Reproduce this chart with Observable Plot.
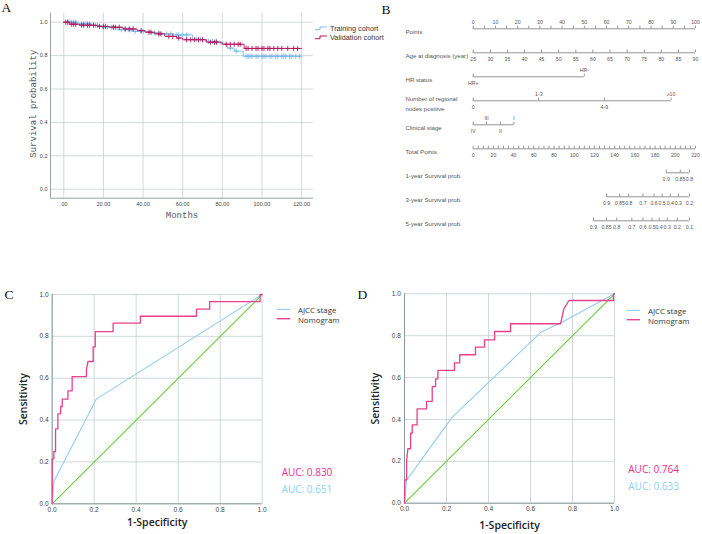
<!DOCTYPE html>
<html><head><meta charset="utf-8">
<script src="https://cdn.jsdelivr.net/npm/d3@7"></script>
<script src="https://cdn.jsdelivr.net/npm/@observablehq/plot@0.6"></script>
<style>
body{margin:0;background:#fff;}
#root{position:relative;width:702px;height:534px;overflow:hidden;background:#fff;}
#root > svg{position:absolute;}
</style></head><body><div id="root"></div>
<script>
// ---------- Panel A: Kaplan-Meier ----------
const kmXTicks = [0, 20, 40, 60, 80, 100, 120];
const kmYTicks = [0, 0.2, 0.4, 0.6, 0.8, 1.0];
const trainTime = [0, 7, 14, 19, 27, 35, 44, 50, 55, 65, 71.5, 79, 82.5, 86, 90.5, 120];
const trainSurv = [1.0, 0.99, 0.98, 0.97, 0.955, 0.945, 0.935, 0.93, 0.924, 0.898, 0.885, 0.87, 0.845, 0.827, 0.796, 0.796];
const trainCensor = [2,3,4,5,6,9,10,11,12,13,16,17,20,22,24,25,29,31,33,34,36,39,40,46,48,52,54,57,58,60,62,67,69,73,75,77,84,87,92,93,94,95,97,98,100,101,102,104,105,107,108,110,111,112,114,115,117,119];
const validTime = [0, 3, 8, 17, 23, 30, 37, 41, 46, 51, 57, 60, 72, 80, 91, 120];
const validSurv = [1.0, 0.988, 0.982, 0.975, 0.97, 0.96, 0.95, 0.94, 0.93, 0.915, 0.905, 0.895, 0.88, 0.868, 0.843, 0.843];
const validCensor = [1,2,4,5,6,9,10,12,13,15,18,20,21,25,26,28,31,33,35,39,43,44,48,49,53,55,58,62,64,66,68,70,74,76,77,82,84,86,88,89,92,93,95,97,98,100,101,103,104,106,108,110,113,116,118];
const kmSeries = ["Training cohort", "Validation cohort"];
const kmColors = ["#76b9e8", "#b3155c"];

// ---------- Panel B: Nomogram ----------
const nomoRows = ["Points", "Age at diagnosis (year)", "HR status", "Number of regional\nnodes positive", "Clinical stage", "Total Points", "1-year Survival prob.", "3-year Survival prob.", "5-year Survival prob."];
const pointsTicks = d3.range(0, 101, 5);
const pointsLabels = d3.range(0, 101, 10);
const ageTicks = d3.range(25, 91, 5);
const hrLevels = ["HR+", "HR-"];
const hrPoints = [0, 50];
const hrSide = ["below", "above"];
const nodeLevels = ["0", "1-3", "4-9", "≥10"];
const nodePoints = [0, 29.5, 59, 89];
const nodeSide = ["below", "above", "below", "above"];
const stageLevels = ["IV", "III", "II", "I"];
const stagePoints = [0, 6, 12.3, 18.3];
const stageSide = ["below", "above", "below", "above"];
const totalTicks = d3.range(0, 221, 5);
const totalLabels = d3.range(0, 221, 20);
const surv1Labels = ["0.9", "0.85", "0.8"];
const surv1Total = [191, 205, 214];
const surv3Labels = ["0.9", "0.85", "0.8", "0.7", "0.6", "0.5", "0.4", "0.3", "0.2"];
const surv3Total = [132, 145, 154, 168, 179, 187, 195, 203, 214];
const surv5Labels = ["0.9", "0.85", "0.8", "0.7", "0.6", "0.5", "0.4", "0.3", "0.2", "0.1"];
const surv5Total = [119, 132, 142, 157, 168, 177, 184, 192, 202, 214];

// ---------- Panels C, D: ROC ----------
const rocTicks = [0, 0.2, 0.4, 0.6, 0.8, 1.0];
const diagX = [0, 1];
const diagY = [0, 1];
const cNomoX = [0,0,0.008,0.008,0.016,0.016,0.027,0.027,0.04,0.04,0.048,0.048,0.075,0.075,0.095,0.095,0.163,0.163,0.17,0.19,0.195,0.195,0.205,0.205,0.29,0.29,0.42,0.42,0.687,0.687,0.75,0.75,0.99,0.99,1.0];
const cNomoY = [0,0.215,0.215,0.25,0.25,0.358,0.358,0.43,0.43,0.465,0.465,0.50,0.50,0.54,0.54,0.608,0.608,0.64,0.68,0.68,0.68,0.75,0.75,0.823,0.823,0.863,0.863,0.896,0.896,0.93,0.93,0.966,0.966,1.0,1.0];
const cAjccX = [0, 0.008, 0.21, 1];
const cAjccY = [0, 0.108, 0.50, 1];
const dNomoX = [0,0.002,0.01,0.01,0.016,0.029,0.029,0.037,0.037,0.06,0.06,0.105,0.105,0.132,0.132,0.148,0.148,0.159,0.159,0.238,0.238,0.263,0.263,0.338,0.338,0.381,0.381,0.429,0.429,0.505,0.505,0.743,0.759,0.783,0.995,0.995,1.0];
const dNomoY = [0,0.111,0.111,0.2,0.26,0.26,0.334,0.334,0.374,0.374,0.45,0.45,0.486,0.486,0.557,0.557,0.594,0.594,0.634,0.634,0.67,0.67,0.709,0.709,0.745,0.745,0.78,0.78,0.82,0.82,0.857,0.857,0.928,0.968,0.968,1.0,1.0];
const dAjccX = [0, 0.01, 0.227, 0.65, 0.743, 1];
const dAjccY = [0, 0.11, 0.41, 0.817, 0.861, 1];
const rocSeries = ["AJCC stage", "Nomogram"];
const rocColors = ["#93cdf1", "#e8408c"];
const diagColor = "#66d13c";
const aucC = ["AUC: 0.830", "AUC: 0.651"];
const aucD = ["AUC: 0.764", "AUC: 0.633"];
const panelLetters = ["A", "B", "C", "D"];

const root = document.getElementById("root");
function place(svg, left, top) {
  svg.style.left = left + "px";
  svg.style.top = top + "px";
  svg.style.background = "transparent";
  root.appendChild(svg);
}

// ---- A ----
function stepRows(times, surv) { return times.map((t, i) => ({t, s: surv[i]})); }
function survAt(times, surv, t) { let s = surv[0]; for (let i = 0; i < times.length; i++) if (times[i] <= t) s = surv[i]; return s; }
const trainRows = stepRows(trainTime, trainSurv);
const validRows = stepRows(validTime, validSurv);
const trainCens = trainCensor.map(t => ({t, s: survAt(trainTime, trainSurv, t)}));
const validCens = validCensor.map(t => ({t, s: survAt(validTime, validSurv, t)}));
const gridCol = "#c4cfd1";
const axisCol = "#97a3a5";

const plotA = Plot.plot({
  width: 400, height: 260,
  marginLeft: 50, marginRight: 87, marginTop: 12.7, marginBottom: 62.3,
  x: {domain: [-6.7, 126], axis: null},
  y: {domain: [-0.054, 1.054], axis: null},
  style: {fontFamily: "Liberation Sans, Arial, sans-serif", fontSize: "5.5px", color: "#444", background: "transparent", overflow: "visible"},
  marks: [
    Plot.gridX(kmXTicks, {stroke: gridCol, strokeOpacity: 1, strokeWidth: 0.8}),
    Plot.gridY(kmYTicks, {stroke: gridCol, strokeOpacity: 1, strokeWidth: 0.8}),
    Plot.ruleX([-6.7], {stroke: axisCol}),
    Plot.ruleY([-0.054], {stroke: axisCol}),
    Plot.axisX(kmXTicks, {tickSize: 0, tickPadding: 3.5, tickFormat: d => d === 0 ? ".00" : d.toFixed(2), label: null}),
    Plot.axisY(kmYTicks, {tickSize: 0, tickPadding: 3, tickFormat: d3.format(".1f"), label: null}),
    Plot.line(trainRows, {x: "t", y: "s", curve: "step-after", stroke: kmColors[0], strokeWidth: 0.9}),
    Plot.dot(trainCens, {x: "t", y: "s", symbol: "plus", r: 1.8, stroke: kmColors[0], strokeWidth: 0.9}),
    Plot.line(validRows, {x: "t", y: "s", curve: "step-after", stroke: kmColors[1], strokeWidth: 0.9}),
    Plot.dot(validCens, {x: "t", y: "s", symbol: "plus", r: 1.8, stroke: kmColors[1], strokeWidth: 0.9}),
    Plot.text(["Months"], {text: d => d, frameAnchor: "bottom", dy: 19.5, textAnchor: "middle", fontSize: 9, fontFamily: "Liberation Mono, DejaVu Sans Mono, monospace", fill: "#555"}),
    Plot.text(["Survival probability"], {text: d => d, frameAnchor: "left", dx: -17, dy: -2, textAnchor: "middle", rotate: -90, fontSize: 9, fontFamily: "Liberation Mono, DejaVu Sans Mono, monospace", fill: "#555"})
  ]
});
place(plotA, 0, 0);

// ---- B ----
const segs = [], ticks = [], labAbove = [], labBelow = [];
function addRow(row, xs, tickXs) {
  segs.push({row, x1: d3.min(xs), x2: d3.max(xs)});
  tickXs.forEach(x => ticks.push({row, x}));
}
addRow(0, pointsTicks, pointsTicks);
pointsLabels.forEach(p => labAbove.push({row: 0, x: p, label: String(p)}));
const agePts = ageTicks.map(a => (a - 25) / 65 * 100);
addRow(1, agePts, agePts);
ageTicks.forEach((a, i) => labBelow.push({row: 1, x: agePts[i], label: String(a)}));
function addCat(row, levels, pts, side) {
  addRow(row, pts, pts);
  levels.forEach((l, i) => (side[i] === "above" ? labAbove : labBelow).push({row, x: pts[i], label: l}));
}
addCat(2, hrLevels, hrPoints, hrSide);
addCat(3, nodeLevels, nodePoints, nodeSide);
addCat(4, stageLevels, stagePoints, stageSide);
const tp = v => v / 220 * 100;
addRow(5, totalTicks.map(tp), totalTicks.map(tp));
totalLabels.forEach(v => labBelow.push({row: 5, x: tp(v), label: String(v)}));
function addSurv(row, labels, totals) {
  const xs = totals.map(tp);
  addRow(row, xs, xs);
  labels.forEach((l, i) => labBelow.push({row, x: xs[i], label: l}));
}
addSurv(6, surv1Labels, surv1Total);
addSurv(7, surv3Labels, surv3Total);
addSurv(8, surv5Labels, surv5Total);

const plotB = Plot.plot({
  width: 352, height: 260,
  marginLeft: 122.7, marginRight: 7, marginTop: 28.3, marginBottom: 39.7,
  x: {domain: [0, 100], axis: null},
  y: {domain: [0, 8], range: [28.3, 220.3], axis: null},
  style: {fontFamily: "Liberation Sans, Arial, sans-serif", fontSize: "5.2px", color: "#555", background: "transparent", overflow: "visible"},
  marks: [
    Plot.ruleY(segs, {y: "row", x1: "x1", x2: "x2", stroke: "#666", strokeWidth: 0.7}),
    Plot.ruleX(ticks, {x: "x", y1: "row", y2: d => d.row - 0.11, stroke: "#666", strokeWidth: 0.7}),
    Plot.text(labAbove, {x: "x", y: "row", text: "label", dy: -6, fill: "#555"}),
    Plot.text(labBelow, {x: "x", y: "row", text: "label", dy: 7, fill: "#555"}),
    Plot.text(nomoRows.map((n, i) => ({n, i})), {y: "i", text: "n", frameAnchor: "left", dx: -67.7, dy: 2, textAnchor: "start", fontSize: 6.1, lineHeight: 1.7, fill: "#555"})
  ]
});
place(plotB, 350, 0);

// ---- C, D ----
function zipXY(xs, ys) { return xs.map((x, i) => ({x, y: ys[i]})); }
function rocPlot(nomoX, nomoY, ajccX, ajccY, m, sensDx, specDy) {
  return Plot.plot({
    width: m.w, height: 264,
    marginLeft: m.l, marginRight: m.r, marginTop: m.t, marginBottom: m.b,
    x: {domain: [0, 1], axis: null},
    y: {domain: [0, 1], axis: null},
    style: {fontFamily: "Liberation Sans, Arial, sans-serif", fontSize: "6.6px", color: "#444", background: "transparent", overflow: "visible"},
    marks: [
      Plot.gridX(rocTicks, {stroke: gridCol, strokeOpacity: 1, strokeWidth: 0.8}),
      Plot.gridY(rocTicks, {stroke: gridCol, strokeOpacity: 1, strokeWidth: 0.8}),
      Plot.ruleX([0], {stroke: "#8d9898"}),
      Plot.ruleY([0], {stroke: "#8d9898"}),
      Plot.axisX(rocTicks, {tickSize: 0, tickPadding: 3.5, tickFormat: d3.format(".1f"), label: null}),
      Plot.axisY(rocTicks, {tickSize: 0, tickPadding: 3.5, tickFormat: d3.format(".1f"), label: null}),
      Plot.link([0], {x1: () => diagX[0], y1: () => diagY[0], x2: () => diagX[1], y2: () => diagY[1], stroke: diagColor, strokeWidth: 1.1, strokeOpacity: 1}),
      Plot.line(zipXY(ajccX, ajccY), {x: "x", y: "y", stroke: rocColors[0], strokeWidth: 1.1}),
      Plot.line(zipXY(nomoX, nomoY), {x: "x", y: "y", stroke: rocColors[1], strokeWidth: 1.3}),
      Plot.text(["Sensitivity"], {text: d => d, frameAnchor: "left", dx: sensDx, textAnchor: "middle", rotate: -90, fontSize: 10.5, fontWeight: 600, fontFamily: "Open Sans, Noto Sans, sans-serif", fill: "#222"}),
      Plot.text(["1-Specificity"], {text: d => d, frameAnchor: "bottom", dy: specDy, textAnchor: "middle", fontSize: 10.5, fontWeight: 600, fontFamily: "Open Sans, Noto Sans, sans-serif", fill: "#222"})
    ]
  });
}
place(rocPlot(cNomoX, cNomoY, cAjccX, cAjccY, {w: 350, l: 51.7, r: 88.3, t: 24, b: 30.7}, -28.7, 21.7), 0, 270);
place(rocPlot(dNomoX, dNomoY, dAjccX, dAjccY, {w: 352, l: 54, r: 88, t: 23.3, b: 31.3}, -29, 25.5), 350, 270);

// ---- overlay: panel letters, legends, AUC ----
const ov = d3.create("svg").attr("width", 702).attr("height", 534)
  .style("position", "absolute").style("left", "0px").style("top", "0px").style("pointer-events", "none");
const letterPos = [[1.5, 11.5], [381.5, 13.5], [4.5, 299], [357.5, 299]];
panelLetters.forEach((l, i) => ov.append("text").attr("x", letterPos[i][0]).attr("y", letterPos[i][1])
  .attr("font-family", "Liberation Serif, Times New Roman, serif").attr("font-size", 13.5).attr("fill", "#111").text(l));
// KM legend
kmSeries.forEach((s, i) => {
  const y = 28.3 + i * 9;
  ov.append("path").attr("d", `M315,${y + 1.4}H320V${y - 1.3}H327`).attr("fill", "none").attr("stroke", kmColors[i]).attr("stroke-width", 1);
  ov.append("text").attr("x", 330).attr("y", y).attr("dy", "0.35em").attr("font-family", "Liberation Sans, Arial, sans-serif")
    .attr("font-size", 7.3).attr("fill", "#333").text(s);
});
// ROC legends & AUC
function rocLegend(lx, ly, ax, ay, auc) {
  rocSeries.forEach((s, i) => {
    const y = ly + i * 9.3;
    ov.append("line").attr("x1", lx).attr("x2", lx + 13.3).attr("y1", y - 1.3).attr("y2", y - 1.3).attr("stroke", rocColors[i]).attr("stroke-width", i ? 1.4 : 1.1);
    ov.append("text").attr("x", lx + 21.3).attr("y", y).attr("dy", "0.35em").attr("font-family", "Open Sans, Noto Sans, sans-serif")
      .attr("font-size", 7.8).attr("fill", "#333").text(s);
  });
  auc.forEach((a, i) => {
    ov.append("text").attr("x", ax).attr("y", ay + i * 17.5).attr("dy", "0.35em").attr("font-family", "Open Sans, Noto Sans, sans-serif")
      .attr("font-size", 10).attr("fill", i ? "#8dd0f5" : "#e8308a").text(a);
  });
}
rocLegend(276.7, 310.7, 281.7, 472.3, aucC);
rocLegend(626.7, 311.7, 628.3, 469.3, aucD);
root.appendChild(ov.node());
</script>
</body></html>
